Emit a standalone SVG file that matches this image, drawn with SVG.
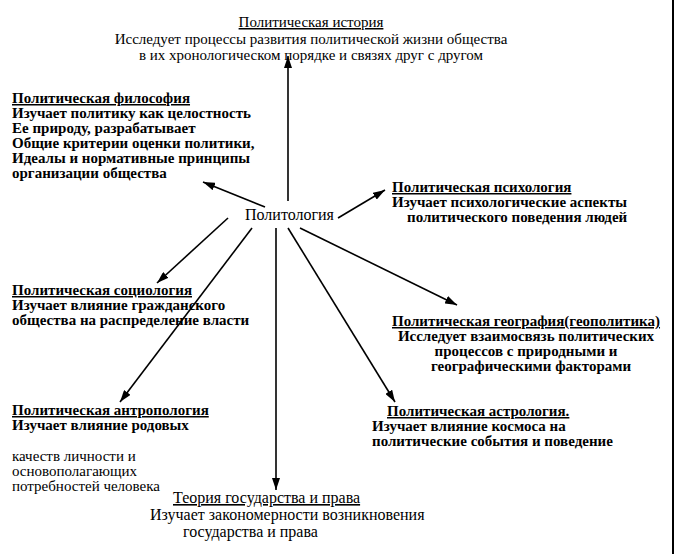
<svg xmlns="http://www.w3.org/2000/svg" width="675" height="554" viewBox="0 0 675 554">
<defs>
<marker id="ah" viewBox="0 0 12 8" refX="12" refY="4" markerWidth="12" markerHeight="8" markerUnits="userSpaceOnUse" orient="auto">
<path d="M0,0 L12,4 L0,8 Z" fill="#000"/>
</marker>
<style>
text{font-family:"Liberation Serif","Times New Roman",serif;font-size:15px;fill:#000}
.b{font-weight:bold}
.u{text-decoration:underline}
.m{text-anchor:middle}
.l{font-size:16px}
.c{stroke:#000;stroke-width:1.6;fill:none;marker-end:url(#ah)}
</style>
</defs>
<rect width="675" height="554" fill="#fff"/>
<line x1="673" y1="0" x2="673" y2="554" stroke="#000" stroke-width="2"/>
<g id="connectors">
<line class="c" x1="288" y1="201" x2="288" y2="56"/>
<line class="c" x1="265" y1="207" x2="203" y2="182"/>
<line class="c" x1="338" y1="218" x2="385" y2="190"/>
<line class="c" x1="228" y1="218" x2="157" y2="283"/>
<line class="c" x1="252" y1="228" x2="120" y2="402"/>
<line class="c" x1="276" y1="228" x2="276" y2="490"/>
<line class="c" x1="288" y1="228" x2="395" y2="402"/>
<line class="c" x1="300" y1="228" x2="457" y2="305"/>
</g>
<g id="n-politology"><text class="l" x="245" y="220">Политология</text></g>
<g id="n-history">
<text class="m u" x="311" y="27">Политическая история</text>
<text class="m" x="311" y="44">Исследует процессы развития  политической жизни общества</text>
<text class="m" x="311" y="60">в их хронологическом порядке и связях друг с другом</text>
</g>
<g id="n-philosophy">
<text class="b u" x="12" y="103">Политическая философия</text>
<text class="b" x="12" y="118">Изучает политику как целостность</text>
<text class="b" x="12" y="133">Ее природу, разрабатывает</text>
<text class="b" x="12" y="148">Общие критерии оценки политики,</text>
<text class="b" x="12" y="163">Идеалы и нормативные принципы</text>
<text class="b" x="12" y="178">организации  общества</text>
</g>
<g id="n-psychology">
<text class="b u" x="392" y="192">Политическая психология</text>
<text class="b" x="392" y="207">Изучает психологические аспекты</text>
<text class="b" x="407" y="222">политического поведения людей</text>
</g>
<g id="n-sociology">
<text class="b u" x="12" y="295">Политическая социология</text>
<text class="b" x="12" y="310">Изучает влияние гражданского</text>
<text class="b" x="12" y="325">общества на распределение власти</text>
</g>
<g id="n-geography">
<text class="b u m" x="526" y="326">Политическая география(геополитика)</text>
<text class="b m" x="526" y="341">Исследует взаимосвязь политических</text>
<text class="b m" x="526" y="356">процессов с природными и</text>
<text class="b m" x="531" y="371">географическими факторами</text>
</g>
<g id="n-anthropology">
<text class="b u" x="12" y="415">Политическая антропология</text>
<text class="b" x="12" y="430"> Изучает влияние  родовых</text>
<text x="12" y="461">качеств личности  и</text>
<text x="12" y="476">основополагающих</text>
<text x="12" y="491">потребностей человека</text>
</g>
<g id="n-astrology">
<text class="b u" x="387" y="416">Политическая астрология.</text>
<text class="b" x="372" y="431">Изучает влияние космоса на</text>
<text class="b" x="372" y="446">политические события и поведение</text>
</g>
<g id="n-theory">
<text class="u l" x="173" y="503">Теория государства и права</text>
<text class="l" x="150" y="520">Изучает закономерности возникновения</text>
<text class="l" x="183" y="537">государства и права</text>
</g>
</svg>
